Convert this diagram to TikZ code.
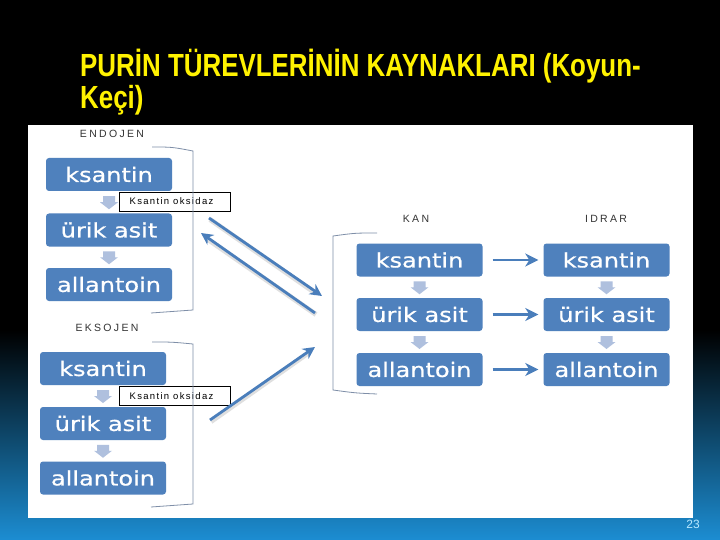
\documentclass[tikz,border=0pt]{standalone}
\usepackage{fontspec}
\setmainfont{DejaVu Sans}
\newfontfamily\titlefont[FakeStretch=0.81]{Liberation Sans Bold}
\newfontfamily\boxfont[FakeStretch=1.2,FakeBold=0.7]{DejaVu Sans}
\newfontfamily\lblfont[LetterSpace=22]{Liberation Sans}
\newfontfamily\enzfont[LetterSpace=14]{Liberation Sans}
\newfontfamily\numfont{Liberation Sans}
\usetikzlibrary{calc,arrows.meta}
\definecolor{boxblue}{HTML}{4F81BD}
\definecolor{arrlight}{HTML}{AFC0DE}
\definecolor{arrblue}{HTML}{4A7EBB}
\definecolor{brk}{HTML}{7F8FA8}
\definecolor{bgblue}{HTML}{1C8DD2}
\definecolor{pgnum}{HTML}{B8E8FF}
\definecolor{lbltext}{HTML}{333333}
\tikzset{
  pbox/.style={rectangle, rounded corners=3pt, fill=boxblue, text=white,
    minimum width=126pt, minimum height=33pt, inner sep=0pt,
    font=\boxfont\fontsize{20}{24}\selectfont},
  enzbox/.style={rectangle, draw=black, line width=0.6pt, fill=white,
    minimum width=111pt, minimum height=19pt, inner sep=0pt, text=black,
    font=\enzfont\fontsize{9.5}{11}\selectfont},
  grplbl/.style={text=lbltext, inner sep=0pt, font=\lblfont\fontsize{10.5}{12}\selectfont},
  harr/.style={draw=arrblue, line width=2.6pt, -{Stealth[length=13pt,width=13pt,inset=4pt]}},
  diag/.style={draw=arrblue, line width=2.8pt, -{Stealth[length=12pt,width=12pt]}},
  diagsh/.style={draw=black!35, opacity=0.35, line width=5pt},
  brack/.style={draw=brk, line width=0.8pt},
  downarr/.pic={\fill[arrlight] (-6,-6) -- (6,-6) -- (6,0) -- (9,0) -- (0,7) -- (-9,0) -- (-6,0) -- cycle;}
}
\begin{document}
\begin{tikzpicture}[x=1pt,y=-1pt]
\useasboundingbox (0,0) rectangle (720,540);
% background
\fill[black] (0,0) rectangle (720,540);
\shade[top color=black, bottom color=bgblue] (0,330) rectangle (720,540);
\fill[white] (28,125) rectangle (693,518);
% title
\node[anchor=base west, inner sep=0pt, text=yellow, font=\titlefont\fontsize{32}{36}\selectfont] (t1) at (80,77) {PURİN TÜREVLERİNİN KAYNAKLARI (Koyun-};
\node[anchor=base west, inner sep=0pt, text=yellow, font=\titlefont\fontsize{32}{36}\selectfont] (t2) at (80,109) {Keçi)};
% group labels
\node[grplbl] (endo) at (112,134) {ENDOJEN};
\node[grplbl] (ekso) at (107,328) {EKSOJEN};
\node[grplbl] (kan) at (416,219) {KAN};
\node[grplbl] (idr) at (606,219) {IDRAR};
% endojen column
\node[pbox] (e1) at (109,174.5) {ksantin};
\node[pbox] (e2) at (109,230) {ürik asit};
\node[pbox] (e3) at (109,284.5) {allantoin};
% eksojen column
\node[pbox] (x1) at (103,368.5) {ksantin};
\node[pbox] (x2) at (103,423.5) {ürik asit};
\node[pbox] (x3) at (103,478) {allantoin};
% kan column
\node[pbox] (k1) at (419.5,260) {ksantin};
\node[pbox] (k2) at (419.5,314.5) {ürik asit};
\node[pbox] (k3) at (419.5,369.5) {allantoin};
% idrar column
\node[pbox] (i1) at (606.5,260) {ksantin};
\node[pbox] (i2) at (606.5,314.5) {ürik asit};
\node[pbox] (i3) at (606.5,369.5) {allantoin};
% down arrows
\foreach \a/\b in {e1/e2,e2/e3,x1/x2,x2/x3,k1/k2,k2/k3,i1/i2,i2/i3}
  \path ($(\a.south)!0.5!(\b.north)$) pic {downarr};
% enzyme labels
\node[enzbox] (z1) at (174.5,201.5) {\hspace*{-6pt}Ksantin oksidaz};
\node[enzbox] (z2) at (174.5,396) {\hspace*{-6pt}Ksantin oksidaz};
% brackets
\path[brack] (152,147) .. controls (172,147) .. (193,151) -- (193,310) .. controls (172,312) .. (151,313);
\path[brack] (152,342) .. controls (172,342) .. (193,344) -- (193,504) .. controls (172,506) .. (151,507);
\path[brack] (377,233) .. controls (355,233) .. (333,236) -- (333,390) .. controls (355,393) .. (377,394);
% horizontal arrows
\draw[harr, shorten <=10pt, shorten >=5pt] (k1) -- (i1);
\draw[harr, shorten <=10pt, shorten >=5pt] (k2) -- (i2);
\draw[harr, shorten <=10pt, shorten >=5pt] (k3) -- (i3);
% diagonal arrows
\coordinate (d1s) at (209,218);
\coordinate (d1e) at (322,296);
\coordinate (d2s) at (315,313);
\coordinate (d2e) at (201,233);
\coordinate (d3s) at (210,420);
\coordinate (d3e) at (315,347);
\draw[diagsh] ($(d1s)+(1,1.5)$) -- ($(d1e)+(-6,-2.5)$);
\draw[diagsh] ($(d2s)+(1,1.5)$) -- ($(d2e)+(7,6.5)$);
\draw[diagsh] ($(d3s)+(1,1.5)$) -- ($(d3e)+(-6,5.5)$);
\draw[diag] (d1s) -- (d1e);
\draw[diag] (d2s) -- (d2e);
\draw[diag] (d3s) -- (d3e);
% page number
\node[anchor=base east, inner sep=0pt, text=pgnum, font=\numfont\fontsize{12}{14}\selectfont] (pg) at (700,528) {23};
\end{tikzpicture}
\end{document}
